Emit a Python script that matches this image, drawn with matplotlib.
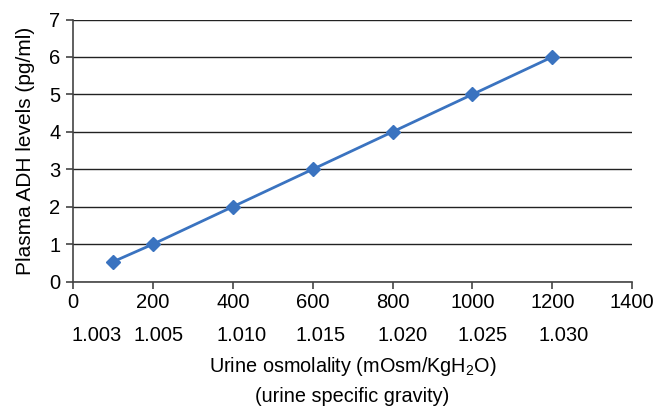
import matplotlib
matplotlib.use("Agg")
import matplotlib.pyplot as plt
from matplotlib.transforms import blended_transform_factory

plt.rcParams['font.family'] = ['Liberation Sans', 'DejaVu Sans']
plt.rcParams['mathtext.fontset'] = 'custom'
plt.rcParams['mathtext.rm'] = 'Liberation Sans'

# data
osmolality = [100, 200, 400, 600, 800, 1000, 1200]
adh_levels = [0.53, 1, 2, 3, 4, 5, 6]
specific_gravity = ['1.003', '1.005', '1.010', '1.015', '1.020', '1.025', '1.030']
# small horizontal nudges (points) of the specific gravity row, as in the source
sg_nudge = [-12, 4, 6, 6, 7, 7, 8]

fig = plt.figure(figsize=(6.68, 4.07), dpi=100)
ax = fig.add_axes([0.1093, 0.308, 0.837, 0.644])

ax.plot(osmolality, adh_levels, color='#3A73C0', lw=2, marker='D', ms=7,
        zorder=3)

ax.set_xlim(0, 1400)
ax.set_ylim(0, 7)
ax.set_xticks(range(0, 1401, 200))
ax.set_yticks(range(0, 8))
ax.yaxis.grid(True, color='#222222', lw=1)
ax.set_axisbelow(True)
for s in ['top', 'right']:
    ax.spines[s].set_visible(False)
for s in ['left', 'bottom']:
    ax.spines[s].set_color('#444444')
    ax.spines[s].set_linewidth(1.2)
ax.tick_params(axis='both', direction='out', length=5, width=1.2,
               color='#444444', labelsize=14.5)
ax.tick_params(axis='x', pad=3)
ax.tick_params(axis='y', pad=4)

# specific gravity row under the x ticks
trans = blended_transform_factory(ax.transData, ax.transAxes)
for x, lab, dx in zip(osmolality, specific_gravity, sg_nudge):
    ax.annotate(lab, (x, -0.206), xycoords=trans, xytext=(dx, 0),
                textcoords='offset points', ha='center', va='center',
                fontsize=14.5)

ax.text(0.5, -0.322, 'Urine osmolality (mOsm/KgH$_2$O)', transform=ax.transAxes,
        ha='center', va='center', fontsize=14.3)
ax.text(0.5, -0.438, '(urine specific gravity)', transform=ax.transAxes,
        ha='center', va='center', fontsize=14.3)
ax.set_ylabel('Plasma ADH levels (pg/ml)', fontsize=15)
ax.yaxis.set_label_coords(-38 / 559, 0.5)

fig.savefig('out.png', dpi=100)
